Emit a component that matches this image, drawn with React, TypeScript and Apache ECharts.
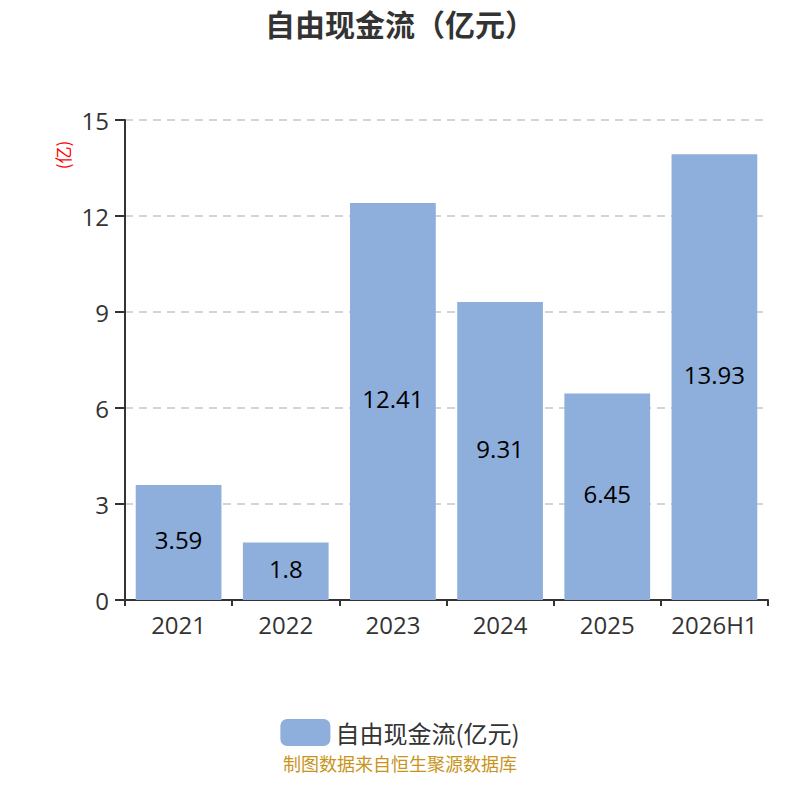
import React, { useEffect, useRef } from "react";
import * as echarts from "echarts";

const categories = ["2021", "2022", "2023", "2024", "2025", "2026H1"];
const values = [3.59, 1.8, 12.41, 9.31, 6.45, 13.93];
const seriesName = "自由现金流(亿元)";
const titleText = "自由现金流（亿元）";
const unitText = "(亿)";
const sourceText = "制图数据来自恒生聚源数据库";

const FONT = "'Noto Sans CJK SC', 'Noto Sans', sans-serif";
const NUMFONT = "'Open Sans', 'Noto Sans CJK SC', sans-serif";

export default function App() {
  const ref = useRef<HTMLDivElement>(null);
  useEffect(() => {
    if (!ref.current) return;
    const chart = echarts.init(ref.current, undefined, { renderer: "svg" });
    chart.setOption({
      animation: false,
      textStyle: { fontFamily: FONT },
      title: {
        text: titleText,
        left: "center",
        top: 3,
        textStyle: { fontSize: 30, fontWeight: "bold", color: "#333", fontFamily: FONT },
      },
      grid: { left: 125, right: 32, top: 120, bottom: 200 },
      legend: {
        top: 714,
        left: "center",
        itemWidth: 50,
        itemHeight: 27,
        itemGap: 10,
        textStyle: { fontSize: 24, color: "#333", fontFamily: FONT },
        data: [seriesName],
      },
      graphic: [
        {
          type: "text",
          x: 62,
          y: 155,
          rotation: Math.PI / 2,
          style: {
            text: unitText,
            fill: "red",
            fontSize: 17,
            fontFamily: FONT,
            align: "center",
            verticalAlign: "middle",
          },
        },
        {
          type: "text",
          x: 400,
          y: 763,
          style: {
            text: sourceText,
            fill: "#c8941e",
            fontSize: 18,
            fontFamily: FONT,
            align: "center",
            verticalAlign: "middle",
          },
        },
      ],
      xAxis: {
        type: "category",
        data: categories,
        axisLine: { show: true, lineStyle: { color: "#333", width: 2 } },
        axisTick: { show: true, lineStyle: { color: "#333", width: 2 }, length: 6 },
        axisLabel: { fontSize: 24, color: "#333", margin: 12, interval: 0, fontFamily: NUMFONT },
      },
      yAxis: {
        type: "value",
        min: 0,
        max: 15,
        interval: 3,
        axisLine: { show: true, lineStyle: { color: "#333", width: 2 } },
        axisTick: { show: true, lineStyle: { color: "#333", width: 2 }, length: 10 },
        axisLabel: { fontSize: 24, color: "#333", margin: 16, fontFamily: NUMFONT },
        splitLine: { show: true, lineStyle: { color: "#c8c8c8", type: [8, 6], width: 1.5 } },
      },
      series: [
        {
          name: seriesName,
          type: "bar",
          data: values,
          barCategoryGap: "20%",
          itemStyle: { color: "#8eaedb" },
          label: {
            show: true,
            position: "inside",
            offset: [0, -3],
            fontSize: 24,
            color: "#000",
            fontFamily: NUMFONT,
          },
        },
      ],
    });
    return () => chart.dispose();
  }, []);
  return (
    <div
      ref={ref}
      style={{ position: "absolute", left: 0, top: 0, width: 800, height: 800 }}
    />
  );
}
